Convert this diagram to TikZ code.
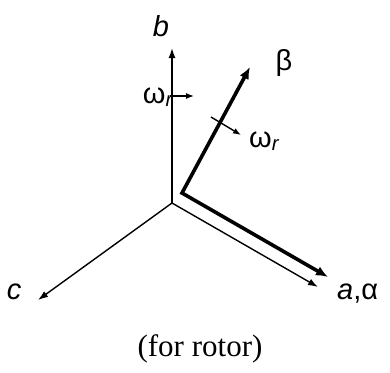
\documentclass[tikz,border=0pt]{standalone}
\usepackage{fontspec}
\setmainfont{Liberation Serif}
\setsansfont{Liberation Sans}
\usetikzlibrary{arrows.meta}

\tikzset{
  axis/.style={line width=1.4pt, -{Latex[length=10pt,width=7pt]}},
  rotaxis/.style={line width=3.6pt, line join=miter, {Latex[length=12pt,width=10pt]}-{Latex[length=12pt,width=10pt]}},
  spin/.style={line width=1.4pt, -{Latex[length=8pt,width=6pt]}},
  lbl/.style={font=\fontsize{29}{33}\selectfont\sffamily, inner sep=0pt, anchor=base},
}

\begin{document}
\begin{tikzpicture}[x=1pt,y=-1pt]
    \useasboundingbox (0,0) rectangle (390,372);

    % stator axes
    \coordinate (O) at (172,203);
    \coordinate (btip) at (172,48);
    \coordinate (ctip) at (38,300);
    \coordinate (atip) at (318,287);
    \draw[axis] (O) -- (btip);
    \draw[axis] (O) -- (ctip);
    \draw[axis] (O) -- (atip);

    % rotor axes
    \coordinate (K) at (182,193);
    \coordinate (betatip) at (250,67);
    \coordinate (alphatip) at (328,277);
    \draw[rotaxis] (betatip) -- (K) -- (alphatip);

    % rotation arrows
    \coordinate (w1s) at (170,96);
    \coordinate (w1e) at (194,96);
    \coordinate (w2s) at (211,117);
    \coordinate (w2e) at (241,135);
    \draw[spin] (w1s) -- (w1e);
    \draw[spin] (w2s) -- (w2e);

    \node[lbl] (b) at (161,36) {\itshape b};
    \node[lbl] (c) at (14,299) {\itshape c};
    \node[lbl, anchor=base west] (aalpha) at (337,299) {\itshape a\upshape,α};
    \node[lbl] (beta) at (284,70) {β};
    \node[lbl, anchor=base east] (w1) at (173,103) {ω\textsubscript{\itshape r}};
    \node[lbl, anchor=base west] (w2) at (249,147) {ω\textsubscript{\itshape r}};

    \node[font=\fontsize{31}{36}\selectfont, inner sep=0pt, anchor=base] (cap) at (200,356) {(for rotor)};
\end{tikzpicture}
\end{document}
